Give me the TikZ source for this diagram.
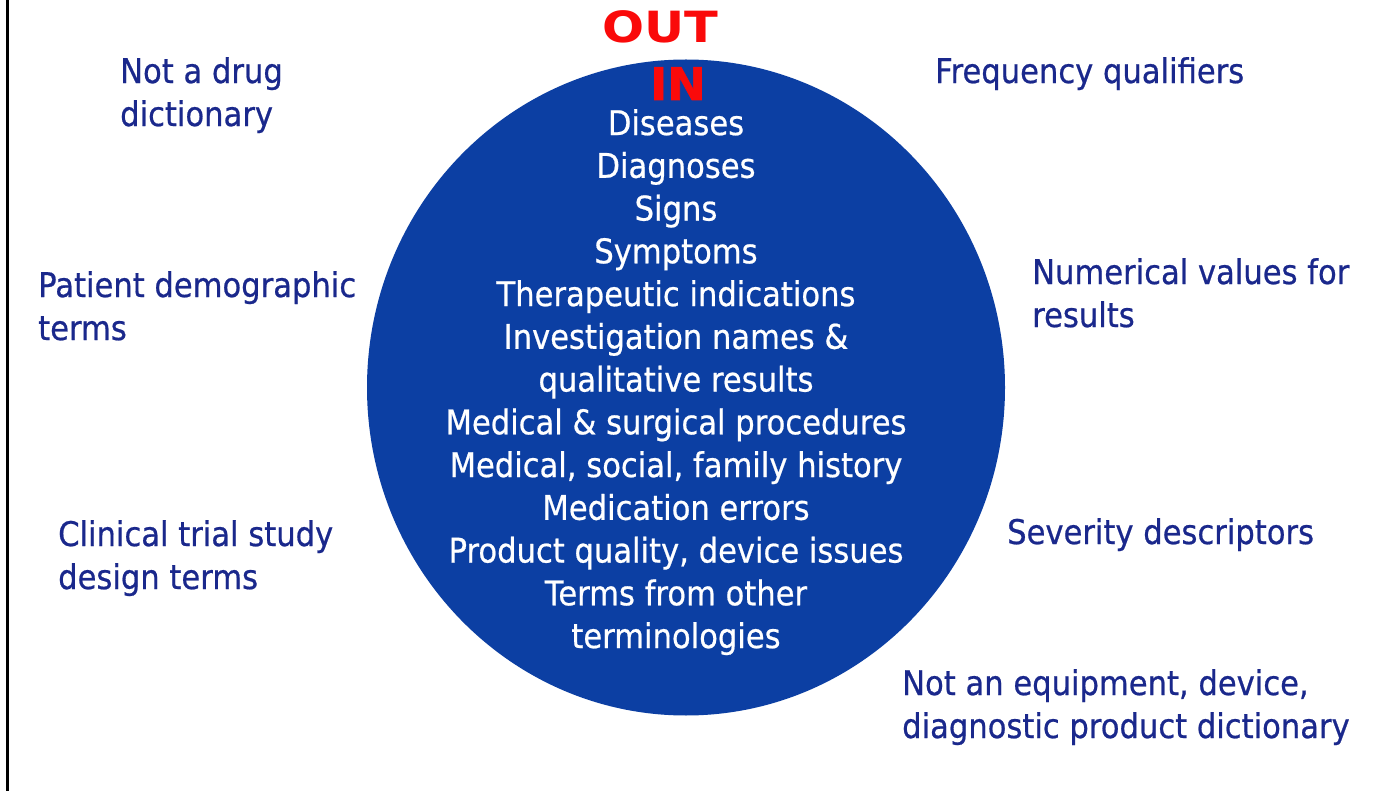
\documentclass[tikz,border=0pt]{standalone}
\usepackage{fontspec}
\setmainfont{DejaVu Sans}[FakeStretch=0.9,FakeBold=0.6]
\newfontfamily\outfont{DejaVu Sans}[FakeStretch=1.15]
\newfontfamily\infont{DejaVu Sans}[FakeStretch=1.02,FakeBold=1.5]
\definecolor{labelblue}{RGB}{26,40,140}
\definecolor{discblue}{RGB}{12,63,163}
\definecolor{hotred}{RGB}{250,10,10}
\tikzset{
  label/.style={anchor=north west, inner sep=0pt, align=left, text=labelblue,
    font=\fontsize{34}{43}\selectfont},
  inlist/.style={anchor=north, inner sep=0pt, align=center, text=white,
    font=\fontsize{34}{42.75}\selectfont},
  redword/.style={anchor=base, inner sep=0pt, text=hotred}
}
\begin{document}
\begin{tikzpicture}[x=1pt,y=-1pt]
\useasboundingbox (0,0) rectangle (1393,791);
\fill[white] (0,0) rectangle (1393,791);
\draw[line width=2.6pt] (7.7,0) -- (7.7,791);
\fill[discblue] (686,387.5) ellipse [x radius=319, y radius=328];
\node[redword, font=\outfont\bfseries\fontsize{43}{43}\selectfont] (out) at (660,43) {OUT};
\node[redword, font=\infont\bfseries\fontsize{45}{45}\selectfont] (in) at (678,100) {IN};
\node[inlist] (inside) at (676,109) {Diseases\\Diagnoses\\Signs\\Symptoms\\Therapeutic indications\\Investigation names \&\\qualitative results\\Medical \& surgical procedures\\Medical, social, family history\\Medication errors\\Product quality, device issues\\Terms from other\\terminologies};
\node[label] (notdrug) at (120,57) {Not a drug\\dictionary};
\node[label] (patient) at (38,271) {Patient demographic\\terms};
\node[label] (clinical) at (58,520) {Clinical trial study\\design terms};
\node[label] (freq) at (935,57) {Frequency qualifiers};
\node[label] (numer) at (1032,258) {Numerical values for\\results};
\node[label] (sever) at (1007,518) {Severity descriptors};
\node[label] (notequip) at (902,669) {Not an equipment, device,\\diagnostic product dictionary};
\end{tikzpicture}
\end{document}
